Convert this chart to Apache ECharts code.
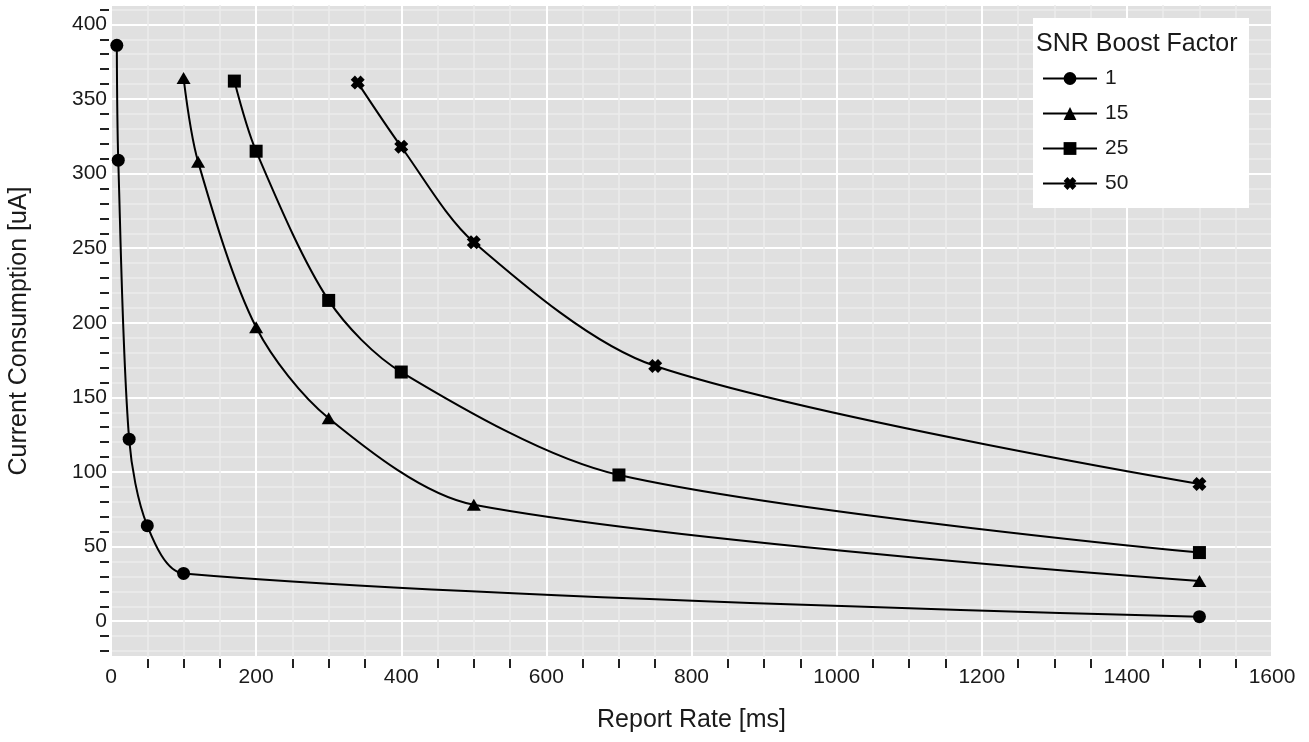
<!DOCTYPE html>
<html>
<head>
<meta charset="utf-8">
<title>Current Consumption vs Report Rate</title>
<script src="https://cdn.jsdelivr.net/npm/echarts@6/dist/echarts.min.js"></script>
<style>
  html, body { margin: 0; padding: 0; background: #fff; }
  #chart { width: 1309px; height: 742px; }
</style>
</head>
<body>
<div id="chart"></div>
<script>
// report rate [ms] / current [uA] per SNR boost factor
const rate1 = [8, 10, 25, 50, 100, 1500]
const curr1 = [386, 309, 122, 64, 32, 3]
const rate15 = [100, 120, 200, 300, 500, 1500]
const curr15 = [364, 308, 197, 136, 78, 27]
const rate25 = [170, 200, 300, 400, 700, 1500]
const curr25 = [362, 315, 215, 167, 98, 46]
const rate50 = [340, 400, 500, 750, 1500]
const curr50 = [361, 318, 254, 171, 92]

const factors = ['1', '15', '25', '50']

const font = '"Liberation Sans", Arial, Helvetica, sans-serif'
const ink = '#1a1a1a'
const crossPath = 'path://M3,0 L5,2 L7,0 L10,3 L8,5 L10,7 L7,10 L5,8 L3,10 L0,7 L2,5 L0,3 Z'

function pairs(xs, ys) {
  return xs.map((x, i) => [x, ys[i]])
}

function makeSeries(name, xs, ys, symbol, size) {
  return {
    name,
    type: 'line',
    data: pairs(xs, ys),
    smooth: 0.3,
    symbol,
    symbolSize: size,
    showAllSymbol: true,
    lineStyle: { color: '#000', width: 2 },
    itemStyle: { color: '#000' },
    emphasis: { disabled: true },
  }
}

const chart = echarts.init(document.getElementById('chart'))

chart.setOption({
  animation: false,
  textStyle: { fontFamily: font },
  grid: {
    left: 111,
    right: 37,
    top: 5,
    bottom: 85,
    show: true,
    backgroundColor: '#e0e0e0',
    borderWidth: 0,
    containLabel: false,
    outerBoundsMode: 'none',
  },
  xAxis: {
    type: 'value',
    min: 0,
    max: 1600,
    interval: 200,
    position: 'bottom',
    offset: 2,
    name: 'Report Rate [ms]',
    nameLocation: 'middle',
    nameGap: 49,
    nameTextStyle: { fontSize: 25, color: ink, fontFamily: font },
    axisLine: { show: false, onZero: false },
    axisTick: { show: false },
    minorTick: { show: true, splitNumber: 4, length: 9, lineStyle: { color: '#222', width: 2 } },
    axisLabel: { fontSize: 21, color: ink, margin: 8, fontFamily: font, formatter: v => String(v) },
    splitLine: { show: true, lineStyle: { color: '#ffffff', width: 2 } },
    minorSplitLine: { show: true, lineStyle: { color: '#ebebeb', width: 1.5 } },
  },
  yAxis: {
    type: 'value',
    min: -24,
    max: 413,
    minInterval: 50,
    maxInterval: 50,
    offset: 2,
    name: 'Current Consumption [uA]',
    nameLocation: 'middle',
    nameRotate: 90,
    nameGap: 77,
    nameTextStyle: { fontSize: 25, color: ink, fontFamily: font },
    axisLine: { show: false, onZero: false },
    axisTick: { show: false },
    minorTick: { show: true, splitNumber: 5, length: 9, lineStyle: { color: '#222', width: 2 } },
    axisLabel: {
      fontSize: 21, color: ink, margin: 2, fontFamily: font,
      showMinLabel: false, showMaxLabel: false, formatter: v => String(v),
    },
    splitLine: { show: true, lineStyle: { color: '#ffffff', width: 2 } },
    minorSplitLine: { show: true, lineStyle: { color: '#ebebeb', width: 1.5 } },
  },
  legend: {
    data: factors,
    orient: 'vertical',
    left: 1042,
    top: 68,
    padding: 0,
    itemWidth: 54,
    itemHeight: 16,
    itemGap: 14,
    selectedMode: false,
    textStyle: { fontSize: 21, color: ink, fontFamily: font, padding: [0, 0, 0, 3] },
    z: 20,
  },
  graphic: [
    {
      type: 'rect',
      z: 10,
      shape: { x: 1033, y: 18, width: 216, height: 190 },
      style: { fill: '#ffffff' },
    },
    {
      type: 'text',
      z: 11,
      style: {
        text: 'SNR Boost Factor',
        x: 1036,
        y: 44,
        fill: ink,
        font: '25px ' + font,
        verticalAlign: 'middle',
      },
    },
  ],
  series: [
    makeSeries(factors[0], rate1, curr1, 'circle', 13),
    makeSeries(factors[1], rate15, curr15, 'triangle', [14, 12]),
    makeSeries(factors[2], rate25, curr25, 'rect', 13),
    makeSeries(factors[3], rate50, curr50, crossPath, 14),
  ],
})

window.addEventListener('resize', () => chart.resize())
</script>
</body>
</html>
